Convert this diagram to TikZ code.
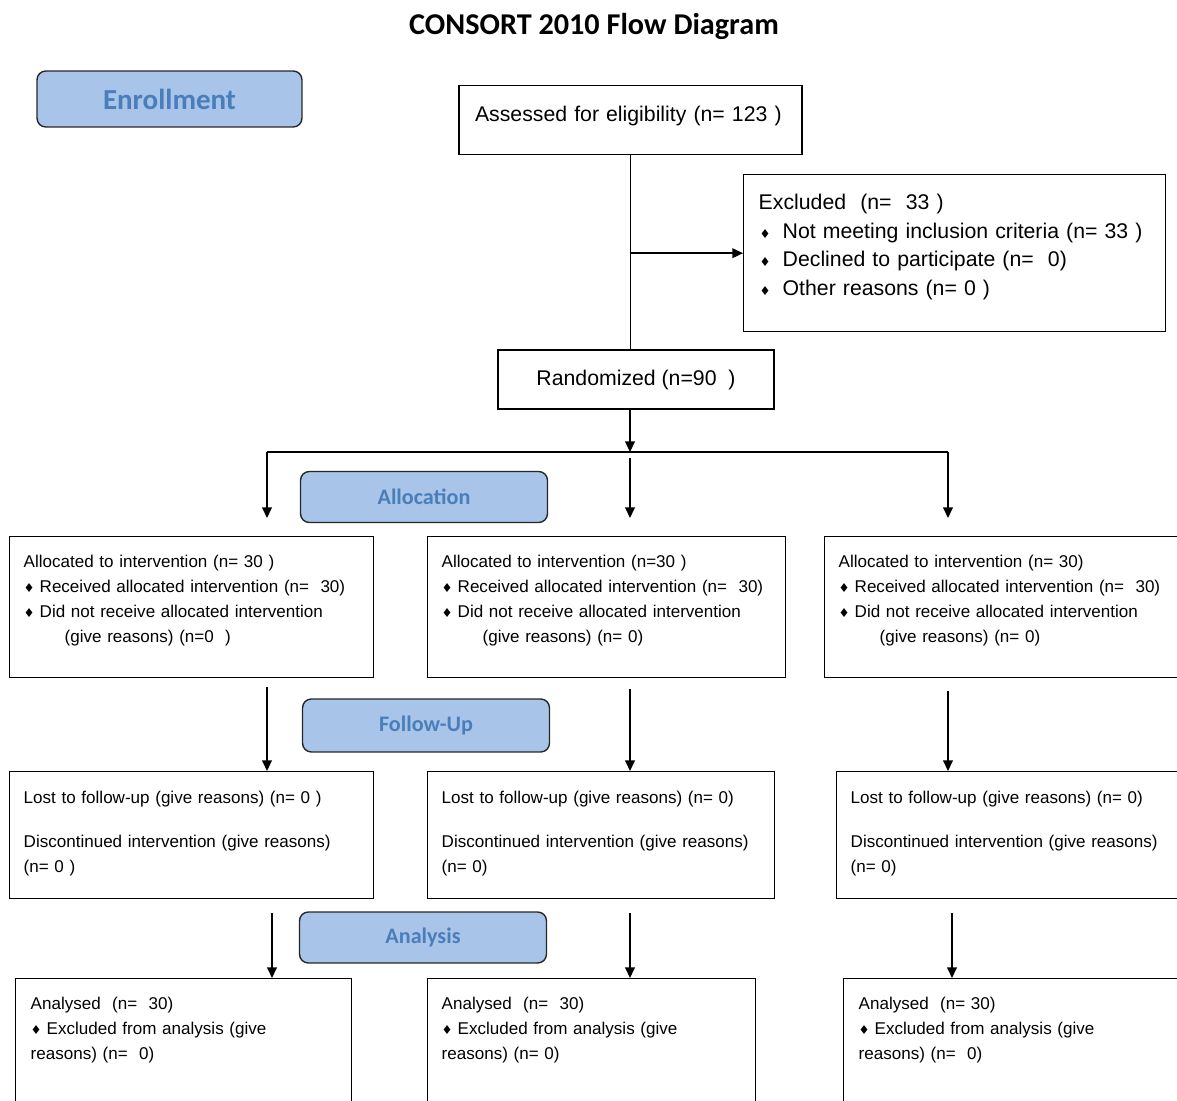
\documentclass[tikz,border=0pt]{standalone}
\usepackage{fontspec}
\setmainfont{Liberation Sans}
\newfontfamily\calfont{Carlito}
\newfontfamily\diafont{DejaVu Sans}
\usetikzlibrary{arrows.meta}

\definecolor{stagefill}{HTML}{A8C4E8}
\definecolor{stagetext}{HTML}{4A7EBB}
\newcommand{\bul}{{\diafont\fontsize{7pt}{7pt}\selectfont ♦}}
\newcommand{\bigtext}{\fontsize{12.1pt}{16.4pt}\selectfont}
\newcommand{\smalltext}{\fontsize{9.7pt}{14.2pt}\selectfont}

\tikzset{
  box/.style={draw, anchor=north west, align=left, inner xsep=0.28cm, inner ysep=0pt, font=\smalltext},
  stage/.style={draw=black!85, fill=stagefill, rounded corners=5pt, text=stagetext,
    font=\calfont\bfseries\fontsize{12.6pt}{14pt}\selectfont, minimum width=4.94cm, minimum height=1.02cm},
}

\begin{document}
\begin{tikzpicture}[x=0.02cm, y=-0.02cm, line width=0.8pt, >={Triangle[length=6pt,width=5.5pt]}]
  \useasboundingbox (0,0) rectangle (1177,1101);

  \node[font=\calfont\bfseries\fontsize{17.2pt}{20pt}\selectfont] (title) at (594,26) {CONSORT 2010 Flow Diagram};

  % enrollment
  \node[stage, minimum width=5.3cm, minimum height=1.12cm, font=\calfont\bfseries\fontsize{16.5pt}{18pt}\selectfont] (enrol) at (169.5,99) {Enrollment};
  \node[draw, anchor=north, inner xsep=0.32cm, inner ysep=0pt, text width=6.22cm, text height=0.71cm, text depth=0.67cm, font=\bigtext] (assess) at (630.5,85) {Assessed for eligibility (n= 123 )};
  \node[box, font=\bigtext, inner xsep=0.3cm, text width=7.84cm, text height=0.69cm, text depth=2.45cm] (excl) at (743,174)
    {Excluded\ \ (n=\ \ 33 )\\
     \hspace*{0.02cm}\makebox[0.46cm][l]{\bul}Not meeting inclusion criteria (n= 33 )\\
     \hspace*{0.02cm}\makebox[0.46cm][l]{\bul}Declined to participate (n=\ \ 0)\\
     \hspace*{0.02cm}\makebox[0.46cm][l]{\bul}Other reasons (n= 0 )};
  \node[draw, minimum width=5.52cm, minimum height=1.18cm, font=\bigtext] (rand) at (636,379.5) {Randomized (n=90\ \ )};

  \draw (assess.south) -- (assess.south |- rand.north);
  \draw[->] (assess.south |- excl.west) -- (excl.west);

  % allocation
  \coordinate (split) at (630,452);
  \coordinate (splitL) at (267,452);
  \coordinate (splitR) at (948,452);
  \draw[->] (split |- rand.south) -- (split);
  \draw (splitL) -- (splitR);

  \node[stage] (alloc) at (424,497) {Allocation};

  \node[box, text width=6.72cm, text height=0.62cm, text depth=2.2cm] (alloc1) at (9,536)
    {Allocated to intervention (n= 30 )\\
     \makebox[0.32cm][l]{\bul}Received allocated intervention (n=\ \ 30)\\
     \makebox[0.32cm][l]{\bul}Did not receive allocated intervention\\
     \hspace*{0.82cm}(give reasons) (n=0\ \ )};
  \node[box, text width=6.6cm, text height=0.62cm, text depth=2.2cm] (alloc2) at (427,536)
    {Allocated to intervention (n=30 )\\
     \makebox[0.32cm][l]{\bul}Received allocated intervention (n=\ \ 30)\\
     \makebox[0.32cm][l]{\bul}Did not receive allocated intervention\\
     \hspace*{0.82cm}(give reasons) (n= 0)};
  \node[box, text width=6.72cm, text height=0.62cm, text depth=2.2cm] (alloc3) at (824,536)
    {Allocated to intervention (n= 30)\\
     \makebox[0.32cm][l]{\bul}Received allocated intervention (n=\ \ 30)\\
     \makebox[0.32cm][l]{\bul}Did not receive allocated intervention\\
     \hspace*{0.82cm}(give reasons) (n= 0)};

  \draw[->, shorten >=0.36cm] (splitL) -- (splitL |- alloc1.north);
  \draw[->, shorten <=0.12cm, shorten >=0.36cm] (split) -- (split |- alloc2.north);
  \draw[->, shorten >=0.36cm] (splitR) -- (splitR |- alloc3.north);

  % follow-up
  \node[stage, minimum height=1.06cm] (follow) at (426,725.5) {Follow-Up};

  \node[box, text width=6.72cm, text height=0.64cm, text depth=1.9cm] (fol1) at (9,771)
    {Lost to follow-up (give reasons) (n= 0 )\\[10.7pt]
     Discontinued intervention (give reasons)\\
     (n= 0 )};
  \node[box, text width=6.38cm, text height=0.64cm, text depth=1.9cm] (fol2) at (427,771)
    {Lost to follow-up (give reasons) (n= 0)\\[10.7pt]
     Discontinued intervention (give reasons)\\
     (n= 0)};
  \node[box, text width=6.72cm, text height=0.64cm, text depth=1.9cm] (fol3) at (836,771)
    {Lost to follow-up (give reasons) (n= 0)\\[10.7pt]
     Discontinued intervention (give reasons)\\
     (n= 0)};

  \draw[->, shorten <=0.18cm] (splitL |- alloc1.south) -- (splitL |- fol1.north);
  \draw[->, shorten <=0.22cm] (split |- alloc2.south) -- (split |- fol2.north);
  \draw[->, shorten <=0.26cm] (splitR |- alloc3.south) -- (splitR |- fol3.north);

  % analysis
  \node[stage] (analys) at (423,937.5) {Analysis};

  \node[box, inner xsep=0.3cm, text width=6.12cm, text height=0.62cm, text depth=2.2cm] (ana1) at (15,978)
    {Analysed\ \ (n=\ \ 30)\\
     \makebox[0.32cm][l]{\bul}Excluded from analysis (give\\
     reasons) (n=\ \ 0)};
  \node[box, text width=6.0cm, text height=0.62cm, text depth=2.2cm] (ana2) at (427,978)
    {Analysed\ \ (n=\ \ 30)\\
     \makebox[0.32cm][l]{\bul}Excluded from analysis (give\\
     reasons) (n= 0)};
  \node[box, inner xsep=0.3cm, text width=6.68cm, text height=0.62cm, text depth=2.2cm] (ana3) at (843,978)
    {Analysed\ \ (n= 30)\\
     \makebox[0.32cm][l]{\bul}Excluded from analysis (give\\
     reasons) (n=\ \ 0)};

  \draw[->, shorten <=0.28cm] ([xshift=0.1cm]splitL |- fol1.south) -- ([xshift=0.1cm]splitL |- ana1.north);
  \draw[->, shorten <=0.28cm] (split |- fol2.south) -- (split |- ana2.north);
  \draw[->, shorten <=0.28cm] ([xshift=0.08cm]splitR |- fol3.south) -- ([xshift=0.08cm]splitR |- ana3.north);
\end{tikzpicture}
\end{document}
